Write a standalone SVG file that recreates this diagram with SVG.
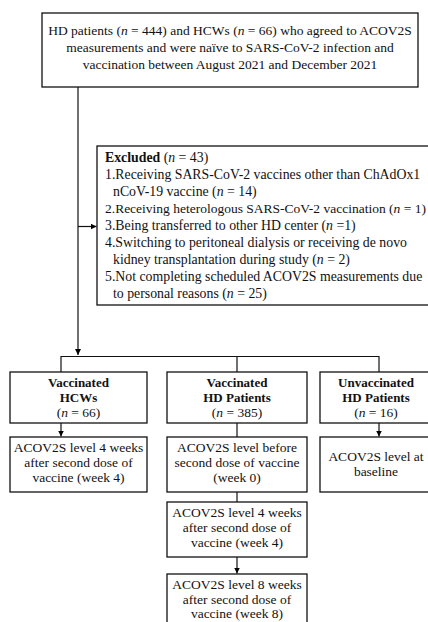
<svg xmlns="http://www.w3.org/2000/svg" width="428" height="622" viewBox="0 0 428 622">
<defs>
<marker id="arr" viewBox="0 0 6 6" refX="6" refY="3" markerWidth="6" markerHeight="6" markerUnits="userSpaceOnUse" orient="auto">
<path d="M0,0 L6,3 L0,6 Z" fill="#000"/>
</marker>
<style>
.box{fill:#fff;stroke:#111;stroke-width:1.3}
.t{font-family:"Liberation Serif","Times New Roman",serif;font-size:13.5px;fill:#111}
.x{font-size:13.8px}
.c{text-anchor:middle}
.b{font-weight:bold;font-size:13px}
.i{font-style:italic}
.ln{fill:none;stroke:#111;stroke-width:1.2}
</style>
</defs>
<rect width="428" height="622" fill="#fff"/>
<g id="connectors">
<path class="ln" d="M78 87 V355" marker-end="url(#arr)"/>
<path class="ln" d="M78 226.5 H96.5" marker-end="url(#arr)"/>
<path class="ln" d="M61 372 V356.5 H379 V372 M237 356.5 V372"/>
<path class="ln" d="M61 423 V436.5" marker-end="url(#arr)"/>
<path class="ln" d="M237 423 V437"/>
<path class="ln" d="M379 423 V436.5" marker-end="url(#arr)"/>
<path class="ln" d="M237 492 V502"/>
<path class="ln" d="M237 557 V573.5" marker-end="url(#arr)"/>
</g>
<g id="start">
<rect class="box" x="42" y="13" width="376" height="74"/>
<text class="t c" x="230" y="35">HD patients (<tspan class="i">n</tspan> = 444) and HCWs (<tspan class="i">n</tspan> = 66) who agreed to ACOV2S</text>
<text class="t c" x="230" y="52">measurements and were naïve to SARS-CoV-2 infection and</text>
<text class="t c" x="230" y="69">vaccination between August 2021 and December 2021</text>
</g>
<g id="excluded">
<rect class="box" x="97" y="146" width="345" height="159"/>
<text class="t x" x="105" y="162"><tspan font-weight="bold">Excluded</tspan> (<tspan class="i">n</tspan> = 43)</text>
<text class="t x" x="105" y="179">1.Receiving SARS-CoV-2 vaccines other than ChAdOx1</text>
<text class="t x" x="113" y="196">nCoV-19 vaccine (<tspan class="i">n</tspan> = 14)</text>
<text class="t" x="105" y="213">2.Receiving heterologous SARS-CoV-2 vaccination (<tspan class="i">n</tspan> = 1)</text>
<text class="t x" x="105" y="230">3.Being transferred to other HD center (<tspan class="i">n</tspan> =1)</text>
<text class="t x" x="105" y="247">4.Switching to peritoneal dialysis or receiving de novo</text>
<text class="t x" x="113" y="264">kidney transplantation during study (<tspan class="i">n</tspan> = 2)</text>
<text class="t x" x="105" y="281">5.Not completing scheduled ACOV2S measurements due</text>
<text class="t x" x="113" y="298">to personal reasons (<tspan class="i">n</tspan> = 25)</text>
</g>
<g id="vacc-hcw">
<rect class="box" x="10" y="372" width="137" height="51"/>
<text class="t c b" x="78.5" y="387">Vaccinated</text>
<text class="t c b" x="78.5" y="402">HCWs</text>
<text class="t c" x="78.5" y="417">(<tspan class="i">n</tspan> = 66)</text>
</g>
<g id="vacc-hd">
<rect class="box" x="167" y="372" width="140" height="51"/>
<text class="t c b" x="237" y="387">Vaccinated</text>
<text class="t c b" x="237" y="402">HD Patients</text>
<text class="t c" x="237" y="417">(<tspan class="i">n</tspan> = 385)</text>
</g>
<g id="unvacc-hd">
<rect class="box" x="320" y="372" width="112" height="51"/>
<text class="t c b" x="376" y="387">Unvaccinated</text>
<text class="t c b" x="376" y="402">HD Patients</text>
<text class="t c" x="376" y="417">(<tspan class="i">n</tspan> = 16)</text>
</g>
<g id="hcw-week4">
<rect class="box" x="10" y="437" width="137" height="55"/>
<text class="t c" x="78.5" y="452">ACOV2S level 4 weeks</text>
<text class="t c" x="78.5" y="467">after second dose of</text>
<text class="t c" x="78.5" y="482">vaccine (week 4)</text>
</g>
<g id="hd-week0">
<rect class="box" x="167" y="437" width="140" height="55"/>
<text class="t c" x="237" y="452">ACOV2S level before</text>
<text class="t c" x="237" y="467">second dose of vaccine</text>
<text class="t c" x="237" y="482">(week 0)</text>
</g>
<g id="unvacc-baseline">
<rect class="box" x="320" y="437" width="112" height="55"/>
<text class="t c" x="376" y="461">ACOV2S level at</text>
<text class="t c" x="376" y="476">baseline</text>
</g>
<g id="hd-week4">
<rect class="box" x="167" y="502" width="140" height="55"/>
<text class="t c" x="237" y="517">ACOV2S level 4 weeks</text>
<text class="t c" x="237" y="532">after second dose of</text>
<text class="t c" x="237" y="547">vaccine (week 4)</text>
</g>
<g id="hd-week8">
<rect class="box" x="167" y="574" width="140" height="55"/>
<text class="t c" x="237" y="589">ACOV2S level 8 weeks</text>
<text class="t c" x="237" y="604">after second dose of</text>
<text class="t c" x="237" y="618">vaccine (week 8)</text>
</g>
</svg>
